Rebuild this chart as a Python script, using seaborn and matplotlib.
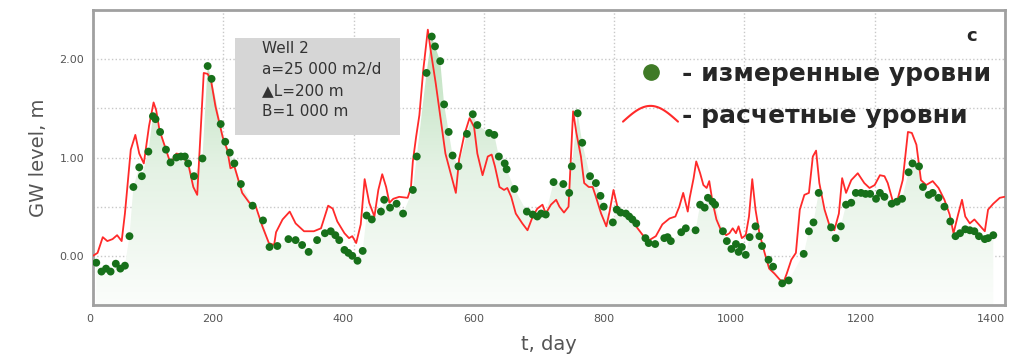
import numpy as np
import pandas as pd
import matplotlib
matplotlib.use("Agg")
import matplotlib.pyplot as plt
import seaborn as sns
from matplotlib.lines import Line2D
from matplotlib.patches import Rectangle
from matplotlib.legend_handler import HandlerBase
from matplotlib.colors import LinearSegmentedColormap

# measured levels (dots)
measured_day = [5, 13, 20, 27, 35, 42, 49, 56, 62, 71, 75, 85, 92, 96, 103, 112, 119, 128, 135, 141,
                146, 155, 168, 176, 182, 196, 203, 210, 217, 227, 245, 261, 271, 283, 300, 311, 321, 331, 344, 356,
                365, 372, 378, 386, 392, 398, 406, 414, 420, 428, 442, 447, 456, 466, 476, 491, 497, 512, 520, 525,
                533, 539, 546, 552, 561, 574, 583, 590, 608, 616, 623, 632, 635, 647, 666, 675, 682, 688, 695, 707,
                722, 731, 735, 744, 751, 763, 772, 779, 784, 798, 804, 810, 818, 823, 828, 834, 848, 853, 863, 877,
                882, 887, 903, 910, 925, 932, 939, 944, 951, 955, 967, 973, 980, 987, 991, 996, 1002, 1008, 1017, 1023,
                1027, 1037, 1044, 1058, 1068, 1091, 1099, 1106, 1114, 1133, 1140, 1148, 1156, 1164, 1171, 1179, 1186, 1193, 1202, 1208,
                1215, 1226, 1234, 1242, 1252, 1258, 1268, 1274, 1283, 1289, 1298, 1307, 1316, 1324, 1331, 1339, 1346, 1353, 1360, 1369,
                1374, 1382]
measured_level = [-0.07, -0.16, -0.13, -0.16, -0.08, -0.13, -0.10, 0.20, 0.70, 0.90, 0.81, 1.06, 1.42, 1.39, 1.26, 1.08, 0.95, 1.00, 1.01, 1.01,
                  0.94, 0.81, 0.99, 1.93, 1.80, 1.34, 1.16, 1.05, 0.94, 0.73, 0.51, 0.36, 0.09, 0.10, 0.17, 0.16, 0.11, 0.04, 0.16, 0.23,
                  0.25, 0.21, 0.16, 0.06, 0.03, 0.00, -0.05, 0.05, 0.41, 0.37, 0.45, 0.57, 0.49, 0.53, 0.43, 0.67, 1.01, 1.86, 2.23, 2.13,
                  1.98, 1.54, 1.26, 1.02, 0.91, 1.24, 1.44, 1.33, 1.25, 1.23, 1.01, 0.94, 0.88, 0.68, 0.45, 0.42, 0.40, 0.43, 0.42, 0.75,
                  0.73, 0.64, 0.91, 1.45, 1.15, 0.81, 0.74, 0.61, 0.50, 0.34, 0.47, 0.44, 0.43, 0.40, 0.37, 0.33, 0.18, 0.13, 0.12, 0.18,
                  0.19, 0.15, 0.24, 0.28, 0.26, 0.52, 0.49, 0.59, 0.55, 0.52, 0.25, 0.15, 0.07, 0.12, 0.04, 0.09, 0.01, 0.19, 0.30, 0.20,
                  0.10, -0.04, -0.11, -0.28, -0.25, 0.02, 0.25, 0.34, 0.64, 0.29, 0.18, 0.30, 0.52, 0.54, 0.64, 0.64, 0.63, 0.63, 0.58, 0.64,
                  0.60, 0.53, 0.55, 0.58, 0.85, 0.94, 0.91, 0.70, 0.62, 0.64, 0.59, 0.50, 0.35, 0.20, 0.23, 0.27, 0.26, 0.25, 0.20, 0.17,
                  0.18, 0.21]

# calculated levels (red line)
model_day = [0, 7, 15, 22, 30, 37, 44, 49, 58, 65, 71, 78, 86, 93, 97, 102, 112, 119, 128, 137,
             147, 154, 160, 165, 170, 176, 181, 188, 199, 206, 211, 217, 229, 240, 250, 260, 270, 278, 281, 291,
             302, 311, 324, 339, 350, 361, 368, 375, 386, 393, 398, 404, 411, 417, 424, 432, 438, 444, 450, 455,
             461, 470, 483, 488, 491, 496, 501, 507, 514, 519, 526, 534, 541, 549, 557, 562, 570, 578, 585, 590,
             598, 606, 612, 617, 624, 631, 636, 642, 649, 659, 667, 675, 682, 690, 695, 703, 711, 716, 723, 730,
             737, 742, 749, 754, 761, 767, 772, 780, 788, 793, 799, 805, 813, 821, 828, 836, 844, 854, 864, 874,
             885, 894, 900, 906, 913, 916, 922, 926, 932, 937, 942, 946, 951, 957, 964, 972, 977, 982, 987, 991,
             996, 1002, 1007, 1012, 1017, 1023, 1031, 1038, 1046, 1054, 1060, 1065, 1072, 1079, 1085, 1092, 1099, 1105, 1110, 1115,
             1123, 1131, 1138, 1145, 1150, 1156, 1164, 1174, 1184, 1192, 1200, 1208, 1215, 1220, 1228, 1235, 1243, 1251, 1257, 1264,
             1271, 1279, 1289, 1298, 1307, 1315, 1321, 1328, 1334, 1339, 1346, 1353, 1361, 1369, 1374, 1382, 1392, 1399]
model_level = [0.00, 0.03, 0.19, 0.15, 0.17, 0.21, 0.15, 0.43, 1.08, 1.23, 1.04, 0.94, 1.32, 1.56, 1.48, 1.28, 1.08, 0.94, 1.04, 1.03,
               0.91, 0.70, 0.62, 1.25, 1.86, 1.85, 1.79, 1.52, 1.21, 1.08, 0.89, 0.91, 0.64, 0.54, 0.50, 0.30, 0.13, 0.11, 0.24, 0.37,
               0.45, 0.33, 0.25, 0.25, 0.28, 0.51, 0.48, 0.35, 0.23, 0.18, 0.20, 0.13, 0.32, 0.78, 0.54, 0.40, 0.67, 0.83, 0.70, 0.54,
               0.58, 0.60, 0.59, 0.69, 0.96, 1.21, 1.43, 1.89, 2.30, 2.06, 1.76, 1.38, 1.04, 0.84, 0.64, 0.98, 1.23, 1.40, 1.31, 1.04,
               0.82, 1.01, 1.03, 0.91, 0.70, 0.67, 0.69, 0.60, 0.43, 0.33, 0.26, 0.40, 0.48, 0.52, 0.43, 0.52, 0.57, 0.50, 0.44, 0.50,
               1.47, 1.25, 1.01, 0.74, 0.70, 0.70, 0.60, 0.43, 0.30, 0.45, 0.67, 0.50, 0.43, 0.42, 0.35, 0.28, 0.21, 0.16, 0.20, 0.32,
               0.38, 0.40, 0.50, 0.64, 0.45, 0.59, 0.79, 0.96, 0.84, 0.72, 0.69, 0.76, 0.55, 0.37, 0.26, 0.21, 0.23, 0.28, 0.23, 0.30,
               0.18, 0.21, 0.40, 0.78, 0.47, 0.23, 0.03, -0.13, -0.18, -0.24, -0.27, -0.18, -0.04, 0.03, 0.47, 0.62, 0.64, 1.01, 1.07, 0.74,
               0.47, 0.30, 0.26, 0.43, 0.79, 0.64, 0.77, 0.84, 0.74, 0.69, 0.72, 0.82, 0.81, 0.74, 0.55, 0.57, 0.77, 1.26, 1.25, 1.13,
               0.77, 0.72, 0.76, 0.69, 0.57, 0.42, 0.23, 0.42, 0.57, 0.40, 0.33, 0.37, 0.31, 0.25, 0.47, 0.53, 0.59, 0.60]

x_ticks = [0, 200, 400, 600, 800, 1000, 1200, 1400]
y_ticks = [0, 1, 2]
y_tick_labels = ["0.00", "1.00", "2.00"]
info_lines = ["Well 2", "a=25 000 m2/d", "\u25b2L=200 m", "B=1 000 m"]
legend_labels = ["- измеренные уровни", "- расчетные уровни"]

measured = pd.DataFrame({"day": measured_day, "level": measured_level})
model = pd.DataFrame({"day": model_day, "level": model_level})


class ArcHandler(HandlerBase):
    # legend glyph drawn as a small arc, like the original
    def create_artists(self, legend, orig_handle, xdescent, ydescent, width, height, fontsize, trans):
        t = np.linspace(0, 1, 30)
        xs = -xdescent + width * t
        ys = -ydescent + height * (0.05 + 0.9 * np.sin(np.pi * t))
        line = Line2D(xs, ys, color=orig_handle.get_color(), lw=orig_handle.get_linewidth())
        line.set_transform(trans)
        return [line]


sns.set_style("white")
plt.rcParams["font.family"] = ["DejaVu Sans"]

fig = plt.figure(figsize=(10.15, 3.58), dpi=100)
ax = fig.add_axes([93 / 1015, 53 / 358, 912 / 1015, 295 / 358])
ymin, ymax = -0.5, 2.5

# gradient fill under the measured series
poly = ax.fill_between(measured["day"], measured["level"], ymin, color="none", lw=0)
cmap = LinearSegmentedColormap.from_list("g", ["#fbfdfb", "#e4f2e4", "#b9dfb9"])
grad = np.linspace(0, 1, 256).reshape(-1, 1)
img = ax.imshow(grad, cmap=cmap, aspect="auto", origin="lower",
                extent=[0, 1400, ymin, 2.3], zorder=1)
img.set_clip_path(poly.get_paths()[0], transform=ax.transData)

sns.lineplot(data=model, x="day", y="level", ax=ax, color="#ff2a2a", lw=1.3, zorder=3)
sns.scatterplot(data=measured, x="day", y="level", ax=ax, color="#17701a", s=32,
                edgecolor="none", zorder=4)

ax.set_xlim(0, 1400)
ax.set_ylim(ymin, ymax)
ax.set_xticks(x_ticks)
ax.set_yticks(y_ticks)
ax.set_yticklabels(y_tick_labels)
ax.set_yticks([0.5, 1.5], minor=True)
ax.grid(True, which="both", color="#c8c8c8", ls=":", lw=1)
ax.tick_params(axis="both", which="major", labelsize=8, labelcolor="#555555",
               length=3, color="#999999")
ax.tick_params(axis="both", which="minor", length=0)
for lbl in ax.get_xticklabels():
    lbl.set_horizontalalignment("right")
for s in ax.spines.values():
    s.set_color("#a0a0a0")
    s.set_linewidth(2)

ax.set_xlabel("t, day", fontsize=14, color="#555555", labelpad=8)
ax.set_ylabel("GW level, m", fontsize=14, color="#555555", labelpad=8)

# parameter box
ax.add_patch(Rectangle((0.1557, 0.576), 0.181, 0.329, transform=ax.transAxes,
                       facecolor="#d6d6d6", edgecolor="none", zorder=5))
ax.text(0.185, 0.895, "\n".join(info_lines), transform=ax.transAxes, fontsize=11,
        color="#333333", va="top", ha="left", linespacing=1.5, zorder=6)

# legend
h_dot = Line2D([], [], ls="none", marker="o", markersize=11, color="#3f7a26")
h_line = Line2D([], [], color="#ff2a2a", lw=1.5)
fig.legend([h_dot, h_line], legend_labels, loc="upper left",
           bbox_to_anchor=(613 / 1015, 1 - 52 / 358), frameon=False, borderaxespad=0,
           prop={"size": 18, "weight": "bold"}, handlelength=2.2, handletextpad=0.15,
           labelspacing=0.7, handler_map={h_line: ArcHandler()})

fig.text(972 / 1015, 1 - 36 / 358, "c", fontsize=13, fontweight="bold", ha="center", va="center")

fig.savefig("out.png", dpi=100)
